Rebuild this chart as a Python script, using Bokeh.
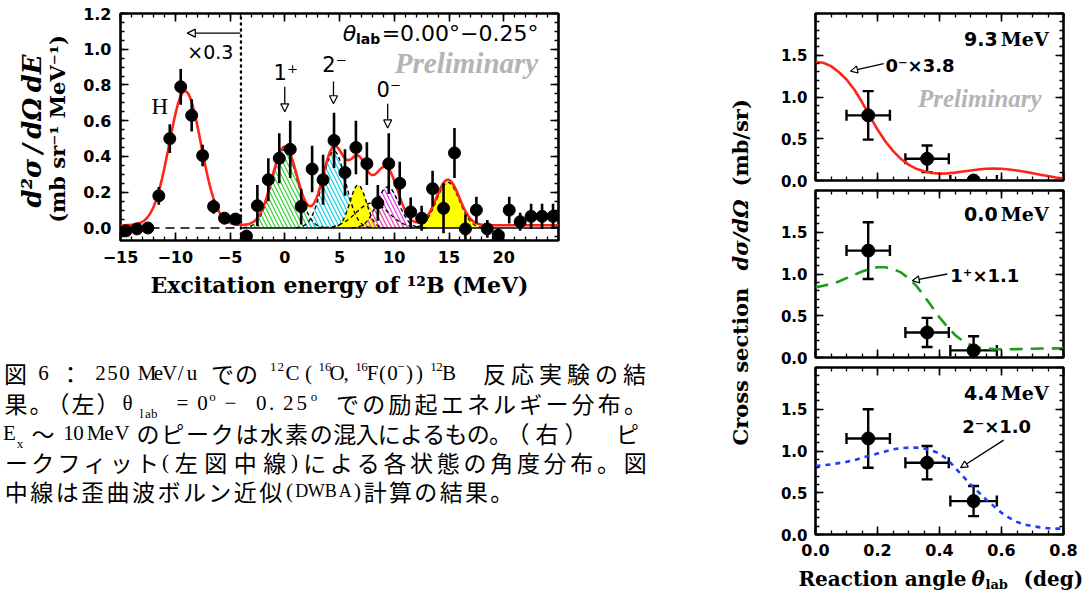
import numpy as np
from bokeh.plotting import figure
from bokeh.layouts import row, column
from bokeh.models import (Range1d, LinearAxis, FixedTicker, CustomJSTickFormatter,
                          Label, Arrow, NormalHead, Whisker, TeeHead, ColumnDataSource)
from bokeh.embed import file_html
from bokeh.resources import INLINE

# ---------------- Left panel: excitation-energy spectrum ----------------
ex_energy = [-14.5, -13.5, -12.5, -11.5, -10.5, -9.5, -8.5, -7.5, -6.5, -5.5,
             -4.5, -3.5, -2.5, -1.5, -0.5, 0.5, 1.5, 2.5, 3.5, 4.5,
             5.5, 6.5, 7.5, 8.5, 9.5, 10.5, 11.5, 12.5, 13.5, 14.5,
             15.5, 16.5, 17.5, 18.5, 19.5, 20.5, 21.5, 22.5, 23.5, 24.5]
ex_yield = [-0.016, -0.005, 0.0, 0.18, 0.50, 0.79, 0.63, 0.405, 0.12, 0.055,
            0.05, -0.045, 0.125, 0.27, 0.39, 0.44, 0.12, 0.33, 0.27, 0.49,
            0.31, 0.45, 0.36, 0.14, 0.36, 0.25, 0.09, 0.055, 0.22, 0.11,
            0.42, -0.005, 0.10, -0.005, -0.04, 0.10, 0.035, 0.065, 0.065, 0.065]
ex_error = [0.02, 0.02, 0.02, 0.05, 0.08, 0.10, 0.09, 0.06, 0.04, 0.03,
            0.03, 0.03, 0.115, 0.12, 0.14, 0.16, 0.10, 0.13, 0.14, 0.155,
            0.13, 0.15, 0.12, 0.10, 0.17, 0.12, 0.08, 0.07, 0.10, 0.14,
            0.14, 0.08, 0.075, 0.05, 0.04, 0.075, 0.05, 0.07, 0.07, 0.07]

# Gaussian fit components (centre MeV, height, sigma)
fit_names = ["H", "1+", "2-", "cont", "6.7", "0-", "15"]
fit_centres = [-9.1, 0.0, 4.5, 8.0, 6.7, 9.4, 14.9]
fit_heights = [0.75, 0.44, 0.43, 0.14, 0.24, 0.23, 0.255]
fit_sigmas = [1.45, 1.15, 1.05, 1.5, 0.75, 1.0, 1.05]
fit_background = 0.015
scaled_region_edge = -4.0          # left of this the spectrum is x0.3

peak_marks = ["1\u207a", "2\u207b", "0\u207b"]
peak_mark_energy = [0.0, 4.45, 9.4]

# ---------------- Right panels: angular distributions ----------------
ang_theta = [0.17, 0.36, 0.51]
ang_theta_err = [0.07, 0.07, 0.075]
xs_93 = [0.78, 0.26, 0.0]
xs_93_err = [0.29, 0.16, 0.04]
xs_00 = [1.28, 0.30, 0.085]
xs_00_err = [0.34, 0.175, 0.17]
xs_44 = [1.15, 0.86, 0.40]
xs_44_err = [0.35, 0.20, 0.18]

dwba_theta = [0.0, 0.025, 0.05, 0.075, 0.1, 0.125, 0.15, 0.175, 0.2, 0.225, 0.25,
              0.275, 0.3, 0.325, 0.35, 0.375, 0.4, 0.425, 0.45, 0.475, 0.5, 0.525,
              0.55, 0.575, 0.6, 0.625, 0.65, 0.675, 0.7, 0.725, 0.75, 0.775, 0.8]
dwba_0m = [1.42, 1.41, 1.37, 1.30, 1.21, 1.09, 0.94, 0.77, 0.61, 0.47, 0.355,
           0.26, 0.19, 0.14, 0.11, 0.09, 0.082, 0.085, 0.094, 0.107, 0.12, 0.132,
           0.14, 0.143, 0.14, 0.132, 0.12, 0.105, 0.088, 0.07, 0.053, 0.037, 0.023]
dwba_1p = [0.84, 0.86, 0.88, 0.91, 0.95, 0.99, 1.03, 1.06, 1.08, 1.08, 1.06,
           1.02, 0.95, 0.86, 0.74, 0.61, 0.48, 0.37, 0.27, 0.20, 0.15, 0.12,
           0.105, 0.10, 0.098, 0.098, 0.10, 0.102, 0.105, 0.107, 0.108, 0.109, 0.11]
dwba_2m = [0.82, 0.83, 0.84, 0.855, 0.87, 0.89, 0.92, 0.945, 0.97, 0.995, 1.02,
           1.035, 1.04, 1.04, 1.03, 1.005, 0.97, 0.90, 0.80, 0.70, 0.60, 0.51,
           0.42, 0.34, 0.26, 0.20, 0.15, 0.12, 0.10, 0.085, 0.075, 0.07, 0.07]

# ---------------- helpers ----------------
SANS = "DejaVu Sans"
SERIF = "DejaVu Serif"
RED = "#ff2418"


def fmt_signed():
    return CustomJSTickFormatter(code="return tick < 0 ? '\\u2212' + Math.abs(tick) : String(tick);")


def fmt_fixed1():
    return CustomJSTickFormatter(code="return tick.toFixed(1);")


def fmt_blank():
    return CustomJSTickFormatter(code="return '';")


def style_axis(ax, major, minor, formatter, labelled, size="16px"):
    ax.ticker = FixedTicker(ticks=major, minor_ticks=minor)
    ax.formatter = formatter
    ax.axis_line_color = None
    ax.major_tick_in = 8
    ax.major_tick_out = 0
    ax.minor_tick_in = 4
    ax.minor_tick_out = 0
    ax.major_tick_line_width = 1.6
    ax.minor_tick_line_width = 1.3
    ax.major_tick_line_color = "black"
    ax.minor_tick_line_color = "black"
    if labelled:
        ax.major_label_text_font = SANS
        ax.major_label_text_font_style = "bold"
        ax.major_label_text_font_size = size
        ax.major_label_text_color = "black"
    else:
        ax.major_label_text_font_size = "0px"
        ax.major_label_standoff = 0


def frame_all(p, xmaj, xmin, ymaj, ymin, xfmt, yfmt, xlab=True, ylab=True, size="16px"):
    bottom = p.below[0]
    left = p.left[0]
    style_axis(bottom, xmaj, xmin, xfmt if xlab else fmt_blank(), xlab, size)
    style_axis(left, ymaj, ymin, yfmt if ylab else fmt_blank(), ylab, size)
    top = LinearAxis()
    right = LinearAxis()
    style_axis(top, xmaj, xmin, fmt_blank(), False)
    style_axis(right, ymaj, ymin, fmt_blank(), False)
    p.add_layout(top, "above")
    p.add_layout(right, "right")
    p.grid.visible = False
    p.outline_line_color = "black"
    p.outline_line_width = 2.6
    p.background_fill_color = "white"
    p.border_fill_color = "white"
    return bottom, left


def lab(p, x, y, text, size, font=SANS, style="normal", color="black",
        align="left", baseline="middle", angle=0.0):
    p.add_layout(Label(x=x, y=y, text=text, text_font=font, text_font_style=style,
                       text_font_size=size, text_color=color, text_align=align,
                       text_baseline=baseline, angle=angle))


def arrow(p, x0, y0, x1, y1, size=8):
    p.add_layout(Arrow(end=NormalHead(size=size, fill_color="white", line_color="black",
                                      line_width=1.2),
                       x_start=x0, y_start=y0, x_end=x1, y_end=y1,
                       line_color="black", line_width=1.3))


def gauss(x, c, h, s):
    return h * np.exp(-0.5 * ((x - c) / s) ** 2)


def blank_canvas(w, h, top=0, bottom=0):
    f = figure(width=w, height=h, x_range=Range1d(0, w), y_range=Range1d(bottom, h - top),
               output_backend="svg", toolbar_location=None, x_axis_type=None, y_axis_type=None,
               min_border=0, min_border_top=top, min_border_bottom=bottom)
    f.grid.visible = False
    f.outline_line_color = None
    return f


# ================= Left spectrum =================
p1 = figure(width=645, height=300, x_range=Range1d(-15, 25), y_range=Range1d(-0.07, 1.2),
            output_backend="svg", toolbar_location=None,
            min_border_left=45, min_border_right=162, min_border_top=13, min_border_bottom=55)
bx, ly = frame_all(p1, [-15, -10, -5, 0, 5, 10, 15, 20], list(range(-15, 26)),
                   [0.0, 0.2, 0.4, 0.6, 0.8, 1.0, 1.2], [round(0.05 * i, 2) for i in range(-1, 25)],
                   fmt_signed(), fmt_fixed1())
bx.major_label_standoff = 10
ly.major_label_standoff = 9
bx.axis_label = "Excitation energy of \u00b9\u00b2B (MeV)"
bx.axis_label_text_font = SERIF
bx.axis_label_text_font_style = "bold"
bx.axis_label_text_font_size = "22px"
bx.axis_label_text_color = "black"
bx.axis_label_standoff = 6

fill_style = {
    "1+": dict(fill_color=None, hatch_pattern="\\", hatch_color="#3fd23f"),
    "2-": dict(fill_color=None, hatch_pattern="\\", hatch_color="#25d3e6"),
    "cont": dict(fill_color=None, hatch_pattern="\\", hatch_color="#e8e800"),
    "6.7": dict(fill_color="#ffff00", hatch_pattern=None),
    "0-": dict(fill_color=None, hatch_pattern="\\", hatch_color="#e848e8"),
    "15": dict(fill_color="#ffff00", hatch_pattern=None),
}
for name, c, h, s in zip(fit_names, fit_centres, fit_heights, fit_sigmas):
    if name not in fill_style:
        continue
    gx = np.linspace(c - 3.3 * s, c + 3.3 * s, 200)
    gy = gauss(gx, c, h, s)
    st = fill_style[name]
    kw = dict(fill_alpha=1.0 if st["fill_color"] else 0.0)
    if st["hatch_pattern"]:
        kw.update(hatch_pattern=st["hatch_pattern"], hatch_color=st["hatch_color"],
                  hatch_scale=8, hatch_weight=1.3)
    p1.varea(x=gx, y1=np.zeros_like(gx), y2=gy,
             fill_color=st["fill_color"] or "white", **kw)
for name, c, h, s in zip(fit_names, fit_centres, fit_heights, fit_sigmas):
    if name == "H":
        continue
    gx = np.linspace(c - 3.3 * s, c + 3.3 * s, 200)
    p1.line(gx, gauss(gx, c, h, s), line_color="black", line_width=1.4, line_dash="4 3")

# zero lines and scaled-region marker
p1.line([-15, scaled_region_edge], [0, 0], line_color="black", line_width=1.6, line_dash="9 6")
p1.line([scaled_region_edge, 25], [0, 0], line_color="black", line_width=1.4)
p1.line([scaled_region_edge, scaled_region_edge], [-0.07, 1.2], line_color="black",
        line_width=2.4, line_dash="1 5", line_cap="round")

# total fit
fx = np.linspace(-15, 25, 1201)
fy = np.full_like(fx, fit_background)
for c, h, s in zip(fit_centres, fit_heights, fit_sigmas):
    fy = fy + gauss(fx, c, h, s)
p1.line(fx, fy, line_color=RED, line_width=2.6)

# data
lo = [y - e for y, e in zip(ex_yield, ex_error)]
hi = [y + e for y, e in zip(ex_yield, ex_error)]
p1.segment(x0=ex_energy, y0=lo, x1=ex_energy, y1=hi, line_color="black", line_width=2.6)
p1.scatter(ex_energy, ex_yield, size=12, color="black")

# annotations
for t, e, ty, a0, a1 in zip(peak_marks, peak_mark_energy, [0.865, 0.91, 0.77],
                            [0.79, 0.82, 0.695], [0.65, 0.695, 0.56]):
    lab(p1, e + 0.1, ty, t, "21px", align="center")
    arrow(p1, e, a0, e, a1)
arrow(p1, scaled_region_edge - 0.05, 1.09, -8.9, 1.09)
lab(p1, -6.8, 0.985, "\u00d70.3", "19px", align="center")
lab(p1, -11.4, 0.68, "H", "23px", font="Liberation Serif", align="center")
lab(p1, 5.3, 1.09, "\u03b8", "22px", style="italic")
lab(p1, 6.5, 1.06, "lab", "14px", style="bold")
lab(p1, 8.85, 1.09, "=0.00\u00b0\u22120.25\u00b0", "22px")
lab(p1, 16.6, 0.925, "Preliminary", "29px", font="Liberation Serif",
    style="bold italic", color="#b4b4b4", align="center")

# y-axis title of the spectrum (two lines); canvas frame aligned with p1 (y = 300 - page y)
ylabL = blank_canvas(75, 300, top=13, bottom=55)
lab(ylabL, 31, 167, "d\u00b2\u03c3\u2009/\u2009d\u03a9\u2009dE", "26px", font=SERIF,
    style="bold italic", align="center", angle=np.pi / 2)
lab(ylabL, 57, 169, "(mb sr\u207b\u00b9 MeV\u207b\u00b9)", "21px", font=SERIF, style="bold",
    align="center", angle=np.pi / 2)

# ================= Caption =================
cap = blank_canvas(720, 292)
JP = "Noto Sans CJK JP"
LAT = "Liberation Serif"
cap_lines_y = [220, 190, 160, 131, 102]
# runs: (kind, text, x_start, x_end); characters are spread evenly over [x_start, x_end]
# kinds: c = CJK, l = Latin, L = Latin capitals, u = superscript, d = subscript
cap_runs = [
    [("c", "図", 3, 27), ("l", "6", 37, 49), ("c", "：", 58, 82), ("l", "250", 94, 130),
     ("l", "MeV/u", 141, 197), ("c", "での", 210, 258), ("u", "12", 269, 284),
     ("l", "C(", 284, 316), ("u", "16", 318, 331), ("l", "O,", 331, 353),
     ("u", "16", 355, 367), ("l", "F(0", 367, 397), ("u", "\u2212", 397, 404),
     ("l", "))", 404, 424), ("u", "12", 430, 442), ("l", "B", 442, 455),
     ("c", "反応実験の結", 480, 648)],
    [("c", "果。", 3, 53), ("c", "（左）", 45, 120), ("l", "\u03b8", 120, 134),
     ("d", "lab", 138, 157), ("l", "=", 174, 190), ("l", "0", 196, 208), ("u", "o", 208, 216),
     ("l", "\u2212", 222, 238), ("l", "0.25", 254, 308), ("u", "o", 309, 318),
     ("c", "での励起エネルギー分布。", 334, 648)],
    [("l", "E", 3, 15), ("d", "x", 15, 24), ("c", "〜", 25, 60), ("l", "10", 63, 83),
     ("l", "MeV", 89, 128), ("c", "のピークは水素の", 135, 333), ("c", "混入によるもの。", 333, 511),
     ("c", "（右）", 503, 590), ("c", "ピ", 614, 640)],
    [("c", "ークフィット", 3, 160), ("l", "(", 160, 170), ("c", "左図中線", 171, 289),
     ("l", ")", 289, 299), ("c", "による各状態の角度分布。図", 301, 648)],
    [("c", "中線は歪曲波ボルン近似", 3, 283), ("l", "(", 284, 294), ("L", "DWBA", 294, 352),
     ("l", ")", 352, 362), ("c", "計算の結果。", 362, 514)],
]
for ly_, runs in zip(cap_lines_y, cap_runs):
    for kind, text, x0, x1 in runs:
        pitch = (x1 - x0) / len(text)
        for i, ch in enumerate(text):
            xc = x0 + (i + 0.5) * pitch
            if kind == "c":
                lab(cap, xc, ly_, ch, "23px", font=JP, align="center")
            elif kind == "l":
                if ch in ".,":
                    lab(cap, xc - pitch / 2 + 1, ly_, ch, "21px", font=LAT, align="left")
                else:
                    lab(cap, xc, ly_, ch, "21px", font=LAT, align="center")
            elif kind == "L":
                lab(cap, xc, ly_, ch, "18px", font=LAT, align="center")
            elif kind == "u":
                lab(cap, xc, ly_ + 6, ch, "13px", font=LAT, align="center")
            else:
                lab(cap, xc, ly_ - 11, ch, "13px", font=LAT, align="center")


# ================= Right panels =================
def angle_panel(h, btop, bbot, xs, xerr, yv, yerr, curve, color, dash, xlabels):
    p = figure(width=318, height=h, x_range=Range1d(0, 0.8), y_range=Range1d(0, 2.0),
               output_backend="svg", toolbar_location=None,
               min_border_left=45, min_border_right=25, min_border_top=btop, min_border_bottom=bbot)
    bxa, lya = frame_all(p, [0.0, 0.2, 0.4, 0.6, 0.8], [round(0.05 * i, 2) for i in range(17)],
                         [0.0, 0.5, 1.0, 1.5, 2.0], [round(0.1 * i, 1) for i in range(21)],
                         fmt_fixed1(), fmt_fixed1(), xlab=xlabels, ylab=True, size="15px")
    lya.major_label_standoff = 8
    lya.ticker = FixedTicker(ticks=[0.0, 0.5, 1.0, 1.5],
                             minor_ticks=[round(0.1 * i, 1) for i in range(21)])
    if xlabels:
        bxa.major_label_standoff = 9
        bxa.major_label_text_font_size = "16px"
    kw = dict(line_color=color, line_width=2.6)
    if dash:
        kw["line_dash"] = dash
    p.line(dwba_theta, curve, **kw)
    src = ColumnDataSource(dict(x=xs, y=yv,
                                xl=[a - b for a, b in zip(xs, xerr)], xu=[a + b for a, b in zip(xs, xerr)],
                                yl=[a - b for a, b in zip(yv, yerr)], yu=[a + b for a, b in zip(yv, yerr)]))
    p.add_layout(Whisker(base="y", lower="xl", upper="xu", dimension="width", source=src,
                         line_width=2.4, upper_head=TeeHead(size=11, line_width=2.4),
                         lower_head=TeeHead(size=11, line_width=2.4)))
    p.add_layout(Whisker(base="x", lower="yl", upper="yu", dimension="height", source=src,
                         line_width=2.4, upper_head=TeeHead(size=11, line_width=2.4),
                         lower_head=TeeHead(size=11, line_width=2.4)))
    p.scatter("x", "y", source=src, size=13, color="black")
    return p


pa = angle_panel(189, 13, 9, ang_theta, ang_theta_err, xs_93, xs_93_err, dwba_0m, RED, None, False)
pb = angle_panel(177, 1, 9, ang_theta, ang_theta_err, xs_00, xs_00_err, dwba_1p, "#1e9c1e", "13 8", False)
pc = angle_panel(197, 1, 29, ang_theta, ang_theta_err, xs_44, xs_44_err, dwba_2m, "#1f3cff", "5 5", True)

for p, ename, ey in [(pa, "9.3", 1.70), (pb, "0.0", 1.72), (pc, "4.4", 1.70)]:
    lab(p, 0.752, ey, "MeV", "19px", font=SERIF, style="bold", align="right")
    lab(p, 0.588, ey, ename, "19px", font=SANS, style="bold", align="right")

lab(pa, 0.226, 1.38, "0\u207b\u00d73.8", "18px", style="bold")
arrow(pa, 0.22, 1.40, 0.113, 1.31, size=7)
lab(pa, 0.53, 0.98, "Preliminary", "25px", font="Liberation Serif",
    style="bold italic", color="#b4b4b4", align="center")
lab(pb, 0.435, 0.98, "1\u207a\u00d71.1", "18px", style="bold")
arrow(pb, 0.425, 1.0, 0.312, 0.92, size=7)
lab(pc, 0.473, 1.29, "2\u207b\u00d71.0", "18px", style="bold")
arrow(pc, 0.607, 1.13, 0.468, 0.80, size=7)

# x-axis title of the angular panels (own canvas, page x 770..1088, y 563..592)
xlabR = blank_canvas(318, 29)
lab(xlabR, 28, 14, "Reaction angle", "20px", font=SERIF, style="bold")
lab(xlabR, 201, 14, "\u03b8", "20px", font=SERIF, style="bold italic")
lab(xlabR, 215, 8, "lab", "13px", font=SERIF, style="bold")
lab(xlabR, 253, 14, "(deg)", "20px", font=SERIF, style="bold")

# shared y-axis title of the right panels
ylabR = blank_canvas(50, 592)
lab(ylabR, 20, 147, "Cross section", "21px", font=SERIF, style="bold", angle=np.pi / 2)
lab(ylabR, 20, 322, "d\u03c3/d\u03a9", "21px", font=SERIF, style="bold italic", angle=np.pi / 2)
lab(ylabR, 20, 406, "(mb/sr)", "21px", font=SERIF, style="bold", angle=np.pi / 2)

left_col = column(row(ylabL, p1), row(cap))
right_col = row(ylabR, column(pa, pb, pc, row(xlabR)))
layout = row(left_col, right_col)
open("out.html", "w").write(file_html(layout, INLINE))
